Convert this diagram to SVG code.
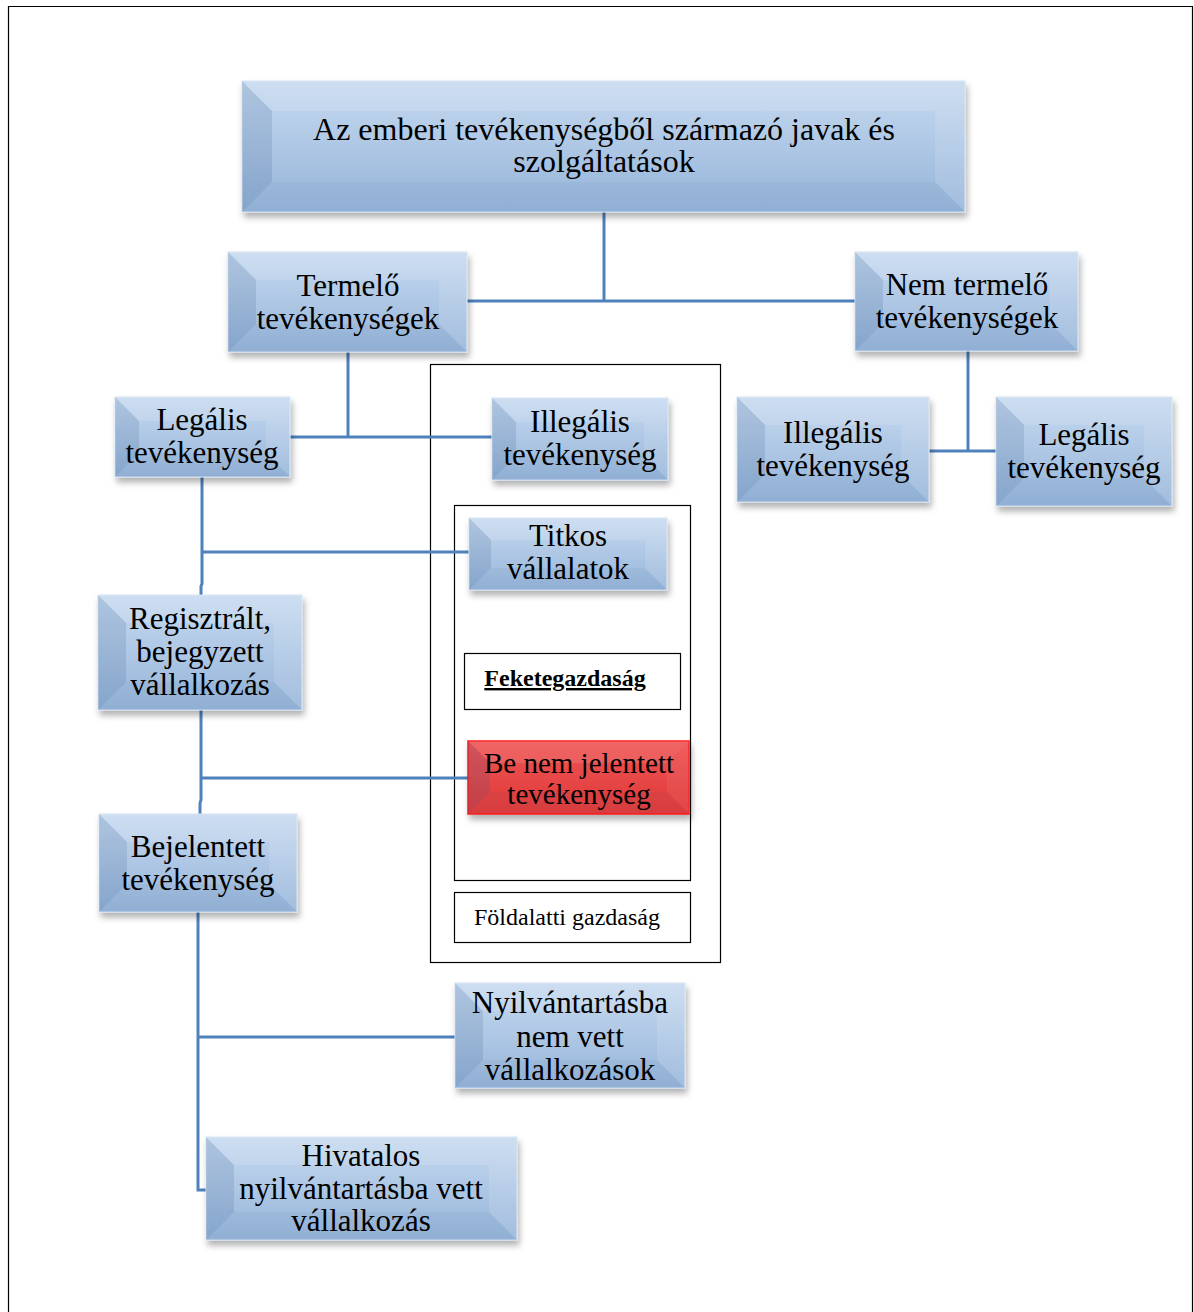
<svg xmlns="http://www.w3.org/2000/svg" width="1194" height="1312" viewBox="0 0 1194 1312">
<style>
.t{font-family:"Liberation Serif","Times New Roman",serif;fill:#000;text-anchor:middle}
.f32{font-size:32px}
.f28{font-size:31px}
.f26{font-size:29px}
.f20{font-size:24px}
.box{fill:url(#blue);stroke:#d6e3f3;stroke-width:1;filter:url(#sh)}
.red{fill:url(#redg);stroke:#ff1a1a;stroke-width:1.5;filter:url(#sh)}
.bt{fill:#fff;opacity:.12}
.bl{fill:#34598a;opacity:.16}
.br{fill:#fff;opacity:.12}
.bb{fill:#34598a;opacity:.05}
.red-o .bt{opacity:.1}
.red-o .br{opacity:.06}
.c{fill:none;stroke:#4f81bd;stroke-width:3}
.frame{fill:none;stroke:#000;stroke-width:1.2}
</style>
<defs>
<linearGradient id="blue" x1="0" y1="0" x2="0" y2="1">
<stop offset="0" stop-color="#c7daf0"/>
<stop offset="1" stop-color="#95b4d9"/>
</linearGradient>
<linearGradient id="redg" x1="0" y1="0" x2="0" y2="1">
<stop offset="0" stop-color="#ee5454"/>
<stop offset="1" stop-color="#e03a3a"/>
</linearGradient>
<filter id="sh" x="-10%" y="-10%" width="125%" height="135%">
<feDropShadow dx="2" dy="5" stdDeviation="3" flood-color="#000" flood-opacity="0.3"/>
</filter>
</defs>
<rect width="1194" height="1312" fill="#fff"/>
<path class="frame" d="M8.5,1312 V6.5 H1192.5 V1312" stroke-width="1.5"/>
<g id="containers">
<rect class="frame" x="430.5" y="364.5" width="290" height="598"/>
<rect class="frame" x="454.5" y="505.5" width="236" height="375"/>
</g>
<g id="connectors">
<path class="c" d="M604,212 V301 M467,301 H855"/>
<path class="c" d="M348,352 V437 M290,437 H492"/>
<path class="c" d="M968,351 V451 M929,451 H996"/>
<path class="c" d="M202,477 V584 L201,586 V595 M202,552 H469"/>
<path class="c" d="M201,710 V800 L200,803 V814 M201,778 H468"/>
<path class="c" d="M198,912 V1190 H206 M198,1037 H455"/>
</g>
<g id="n0">
<rect class="box" x="242" y="81" width="723" height="131"/>
<polygon class="bt" points="242,81 965,81 935,111 272,111"/>
<polygon class="bl" points="242,81 272,111 272,182 242,212"/>
<polygon class="br" points="965,81 935,111 935,182 965,212"/>
<polygon class="bb" points="242,212 272,182 935,182 965,212"/>
<text class="t f32" x="604" y="140">Az emberi tevékenységből származó javak és</text>
<text class="t f32" x="604" y="172">szolgáltatások</text>
</g>
<g id="n1">
<rect class="box" x="228" y="252" width="239" height="100"/>
<polygon class="bt" points="228,252 467,252 439,280 256,280"/>
<polygon class="bl" points="228,252 256,280 256,324 228,352"/>
<polygon class="br" points="467,252 439,280 439,324 467,352"/>
<polygon class="bb" points="228,352 256,324 439,324 467,352"/>
<text class="t f28" x="348" y="296">Termelő</text>
<text class="t f28" x="348" y="329">tevékenységek</text>
</g>
<g id="n2">
<rect class="box" x="855" y="252" width="223" height="99"/>
<polygon class="bt" points="855,252 1078,252 1050,280 883,280"/>
<polygon class="bl" points="855,252 883,280 883,323 855,351"/>
<polygon class="br" points="1078,252 1050,280 1050,323 1078,351"/>
<polygon class="bb" points="855,351 883,323 1050,323 1078,351"/>
<text class="t f28" x="967" y="295">Nem termelő</text>
<text class="t f28" x="967" y="328">tevékenységek</text>
</g>
<g id="n3">
<rect class="box" x="115" y="397" width="175" height="80"/>
<polygon class="bt" points="115,397 290,397 266,421 139,421"/>
<polygon class="bl" points="115,397 139,421 139,453 115,477"/>
<polygon class="br" points="290,397 266,421 266,453 290,477"/>
<polygon class="bb" points="115,477 139,453 266,453 290,477"/>
<text class="t f28" x="202" y="430">Legális</text>
<text class="t f28" x="202" y="463">tevékenység</text>
</g>
<g id="n4">
<rect class="box" x="492" y="398" width="176" height="82"/>
<polygon class="bt" points="492,398 668,398 644,422 516,422"/>
<polygon class="bl" points="492,398 516,422 516,456 492,480"/>
<polygon class="br" points="668,398 644,422 644,456 668,480"/>
<polygon class="bb" points="492,480 516,456 644,456 668,480"/>
<text class="t f28" x="580" y="432">Illegális</text>
<text class="t f28" x="580" y="465">tevékenység</text>
</g>
<g id="n5">
<rect class="box" x="737" y="397" width="192" height="105"/>
<polygon class="bt" points="737,397 929,397 901,425 765,425"/>
<polygon class="bl" points="737,397 765,425 765,474 737,502"/>
<polygon class="br" points="929,397 901,425 901,474 929,502"/>
<polygon class="bb" points="737,502 765,474 901,474 929,502"/>
<text class="t f28" x="833" y="443">Illegális</text>
<text class="t f28" x="833" y="476">tevékenység</text>
</g>
<g id="n6">
<rect class="box" x="996" y="397" width="176" height="109"/>
<polygon class="bt" points="996,397 1172,397 1144,425 1024,425"/>
<polygon class="bl" points="996,397 1024,425 1024,478 996,506"/>
<polygon class="br" points="1172,397 1144,425 1144,478 1172,506"/>
<polygon class="bb" points="996,506 1024,478 1144,478 1172,506"/>
<text class="t f28" x="1084" y="445">Legális</text>
<text class="t f28" x="1084" y="478">tevékenység</text>
</g>
<g id="n7">
<rect class="box" x="469" y="518" width="198" height="72"/>
<polygon class="bt" points="469,518 667,518 645,540 491,540"/>
<polygon class="bl" points="469,518 491,540 491,568 469,590"/>
<polygon class="br" points="667,518 645,540 645,568 667,590"/>
<polygon class="bb" points="469,590 491,568 645,568 667,590"/>
<text class="t f28" x="568" y="546">Titkos</text>
<text class="t f28" x="568" y="579">vállalatok</text>
</g>
<g id="n-fekete">
<rect class="frame" x="464.5" y="653.5" width="216" height="56" fill="#fff"/>
<text class="t f20" x="565" y="686" font-weight="bold" text-decoration="underline">Feketegazdaság</text>
</g>
<g id="n8" class="red-o">
<rect class="red" x="468" y="741" width="221" height="73"/>
<polygon class="bt" points="468,741 689,741 667,763 490,763"/>
<polygon class="bl" points="468,741 490,763 490,792 468,814"/>
<polygon class="br" points="689,741 667,763 667,792 689,814"/>
<polygon class="bb" points="468,814 490,792 667,792 689,814"/>
<text class="t f26" x="579" y="773">Be nem jelentett</text>
<text class="t f26" x="579" y="804">tevékenység</text>
</g>
<g id="n-foldalatti">
<rect class="frame" x="454.5" y="892.5" width="236" height="50" fill="#fff"/>
<text class="t f20" x="567" y="925">Földalatti gazdaság</text>
</g>
<g id="n9">
<rect class="box" x="98" y="595" width="204" height="115"/>
<polygon class="bt" points="98,595 302,595 274,623 126,623"/>
<polygon class="bl" points="98,595 126,623 126,682 98,710"/>
<polygon class="br" points="302,595 274,623 274,682 302,710"/>
<polygon class="bb" points="98,710 126,682 274,682 302,710"/>
<text class="t f28" x="200" y="629">Regisztrált,</text>
<text class="t f28" x="200" y="662">bejegyzett</text>
<text class="t f28" x="200" y="695">vállalkozás</text>
</g>
<g id="n10">
<rect class="box" x="99" y="814" width="198" height="98"/>
<polygon class="bt" points="99,814 297,814 269,842 127,842"/>
<polygon class="bl" points="99,814 127,842 127,884 99,912"/>
<polygon class="br" points="297,814 269,842 269,884 297,912"/>
<polygon class="bb" points="99,912 127,884 269,884 297,912"/>
<text class="t f28" x="198" y="857">Bejelentett</text>
<text class="t f28" x="198" y="890">tevékenység</text>
</g>
<g id="n11">
<rect class="box" x="455" y="983" width="230" height="105"/>
<polygon class="bt" points="455,983 685,983 657,1011 483,1011"/>
<polygon class="bl" points="455,983 483,1011 483,1060 455,1088"/>
<polygon class="br" points="685,983 657,1011 657,1060 685,1088"/>
<polygon class="bb" points="455,1088 483,1060 657,1060 685,1088"/>
<text class="t f28" x="570" y="1013">Nyilvántartásba</text>
<text class="t f28" x="570" y="1047">nem vett</text>
<text class="t f28" x="570" y="1080">vállalkozások</text>
</g>
<g id="n12">
<rect class="box" x="206" y="1137" width="311" height="103"/>
<polygon class="bt" points="206,1137 517,1137 489,1165 234,1165"/>
<polygon class="bl" points="206,1137 234,1165 234,1212 206,1240"/>
<polygon class="br" points="517,1137 489,1165 489,1212 517,1240"/>
<polygon class="bb" points="206,1240 234,1212 489,1212 517,1240"/>
<text class="t f28" x="361" y="1166">Hivatalos</text>
<text class="t f28" x="361" y="1199">nyilvántartásba vett</text>
<text class="t f28" x="361" y="1231">vállalkozás</text>
</g>
</svg>
